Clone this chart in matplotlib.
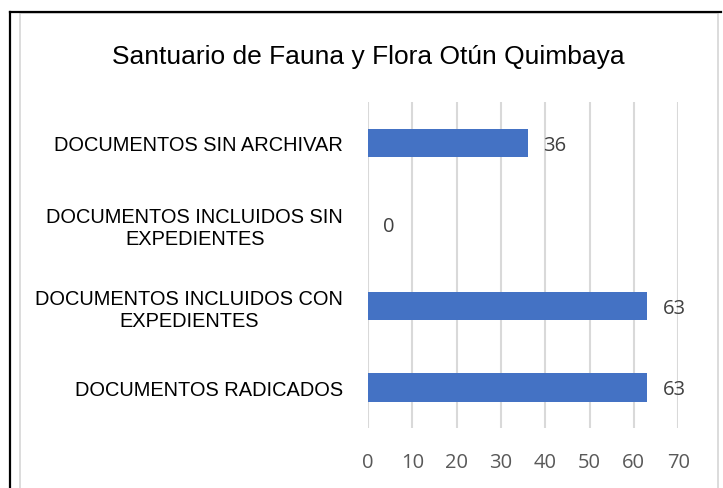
import matplotlib.pyplot as plt
from matplotlib.patches import Rectangle
from matplotlib.lines import Line2D

categorias = ["DOCUMENTOS RADICADOS",
              "DOCUMENTOS INCLUIDOS CON\nEXPEDIENTES",
              "DOCUMENTOS INCLUIDOS SIN\nEXPEDIENTES",
              "DOCUMENTOS SIN ARCHIVAR"]
valores = [63, 63, 0, 36]
ticks_x = [0, 10, 20, 30, 40, 50, 60, 70]

fig = plt.figure(figsize=(7.23, 4.89), dpi=100)
ax = fig.add_axes([0.509, 0.1227, 0.429, 0.6663])

pos = range(len(categorias))
ax.barh(pos, valores, height=0.35, color='#4472C4', zorder=3)
for p, v in zip(pos, valores):
    ax.annotate(str(v), (v, p), xytext=(11, -1.5), textcoords='offset points',
                va='center', ha='left', fontsize=14.5, color='#404040',
                family='Open Sans')

ax.set_xlim(0, 70)
ax.set_ylim(-0.5, 3.5)
ax.set_xticks(ticks_x)
ax.set_xticklabels([str(t) for t in ticks_x], fontsize=14.5, color='#595959',
                   family='Open Sans')
ax.set_yticks(list(pos))
ax.set_yticklabels(categorias, fontsize=14.4, family='Liberation Sans',
                   multialignment='center')
ax.tick_params(axis='both', length=0)
ax.tick_params(axis='x', pad=17)
ax.tick_params(axis='y', pad=18)
ax.grid(axis='x', color='#D9D9D9', linewidth=1.5, zorder=0)
for s in ax.spines.values():
    s.set_visible(False)

fig.text(0.51, 0.883, "Santuario de Fauna y Flora Otún Quimbaya",
         ha='center', va='center', fontsize=19, family='Liberation Sans')

# marco del grafico y bordes de la celda
fig.add_artist(Rectangle((20/723, -0.1), (718-20)/723, 1.1 - 14/489,
                         transform=fig.transFigure, fill=False,
                         edgecolor='#D9D9D9', linewidth=1.3))
fig.add_artist(Line2D([10/723, 10/723], [0, 1 - 13/489], color='black',
                      linewidth=1.6, transform=fig.transFigure))
fig.add_artist(Line2D([10/723, 721/723], [1 - 13/489, 1 - 13/489],
                      color='black', linewidth=1.6, transform=fig.transFigure))

fig.savefig("out.png", dpi=100)
